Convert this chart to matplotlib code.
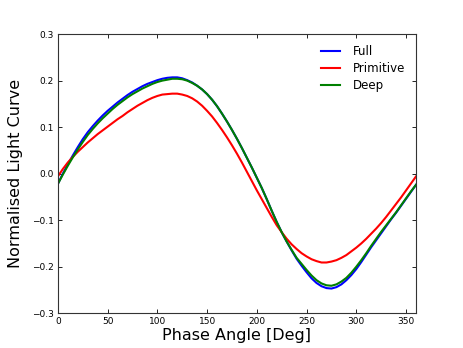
import numpy as np
import matplotlib
matplotlib.use('Agg')
import matplotlib.pyplot as plt

# phase angle samples (deg)
phase = list(range(0, 361, 5))

full = [-0.022, 0.000, 0.020, 0.039, 0.057, 0.074, 0.089, 0.102, 0.114, 0.125,
        0.135, 0.144, 0.153, 0.161, 0.169, 0.176, 0.182, 0.188, 0.193, 0.197,
        0.201, 0.204, 0.206, 0.207, 0.207, 0.205, 0.201, 0.196, 0.189, 0.181,
        0.171, 0.159, 0.145, 0.129, 0.112, 0.094, 0.075, 0.055, 0.034, 0.013,
        -0.009, -0.031, -0.055, -0.080, -0.104, -0.126, -0.146, -0.165, -0.183, -0.198,
        -0.212, -0.225, -0.235, -0.242, -0.246, -0.247, -0.244, -0.238, -0.229, -0.218,
        -0.205, -0.190, -0.174, -0.158, -0.143, -0.128, -0.113, -0.098, -0.084, -0.069,
        -0.054, -0.039, -0.024]

primitive = [-0.006, 0.010, 0.024, 0.036, 0.047, 0.057, 0.067, 0.076, 0.085, 0.093,
             0.101, 0.109, 0.117, 0.124, 0.132, 0.139, 0.146, 0.152, 0.158, 0.163,
             0.167, 0.170, 0.171, 0.172, 0.172, 0.170, 0.167, 0.162, 0.155, 0.146,
             0.135, 0.123, 0.109, 0.094, 0.078, 0.061, 0.043, 0.024, 0.004, -0.016,
             -0.036, -0.055, -0.074, -0.093, -0.111, -0.126, -0.140, -0.152, -0.162, -0.171,
             -0.178, -0.184, -0.188, -0.191, -0.191, -0.189, -0.186, -0.181, -0.175, -0.167,
             -0.159, -0.150, -0.140, -0.129, -0.118, -0.106, -0.093, -0.079, -0.065, -0.051,
             -0.036, -0.021, -0.006]

deep = [-0.022, -0.002, 0.017, 0.035, 0.052, 0.068, 0.083, 0.096, 0.108, 0.119,
        0.129, 0.139, 0.148, 0.156, 0.164, 0.171, 0.177, 0.183, 0.188, 0.193,
        0.197, 0.200, 0.202, 0.204, 0.204, 0.203, 0.200, 0.195, 0.189, 0.181,
        0.171, 0.159, 0.145, 0.129, 0.112, 0.094, 0.075, 0.055, 0.034, 0.013,
        -0.009, -0.031, -0.055, -0.080, -0.104, -0.126, -0.146, -0.164, -0.181, -0.194,
        -0.207, -0.219, -0.229, -0.236, -0.240, -0.241, -0.238, -0.232, -0.224, -0.213,
        -0.200, -0.186, -0.171, -0.155, -0.140, -0.125, -0.111, -0.097, -0.083, -0.068,
        -0.053, -0.038, -0.024]

fig = plt.figure(figsize=(4.63, 3.48), dpi=100)
ax = fig.add_axes([0.125, 0.1, 0.7735, 0.802])

ax.plot(phase, full, color='b', lw=1.5, label='Full')
ax.plot(phase, primitive, color='r', lw=1.5, label='Primitive')
ax.plot(phase, deep, color='g', lw=1.5, label='Deep')

ax.set_xlim(0, 360)
ax.set_ylim(-0.3, 0.3)
ax.set_xticks(np.arange(0, 351, 50))
ax.set_yticks(np.arange(-0.3, 0.31, 0.1))
ax.tick_params(direction='in', top=True, right=True, length=3, width=0.6,
               labelsize=6.5, pad=3)
for s in ax.spines.values():
    s.set_linewidth(0.8)
    s.set_color('#333333')

ax.set_xlabel('Phase Angle [Deg]', fontsize=11.5, labelpad=1)
ax.set_ylabel('Normalised Light Curve', fontsize=11.5, labelpad=6)
ax.legend(loc='upper right', frameon=False, fontsize=8.5, handlelength=1.6,
          handletextpad=1.1, labelspacing=0.35, borderaxespad=0.5)

fig.savefig('out.png', dpi=100)
